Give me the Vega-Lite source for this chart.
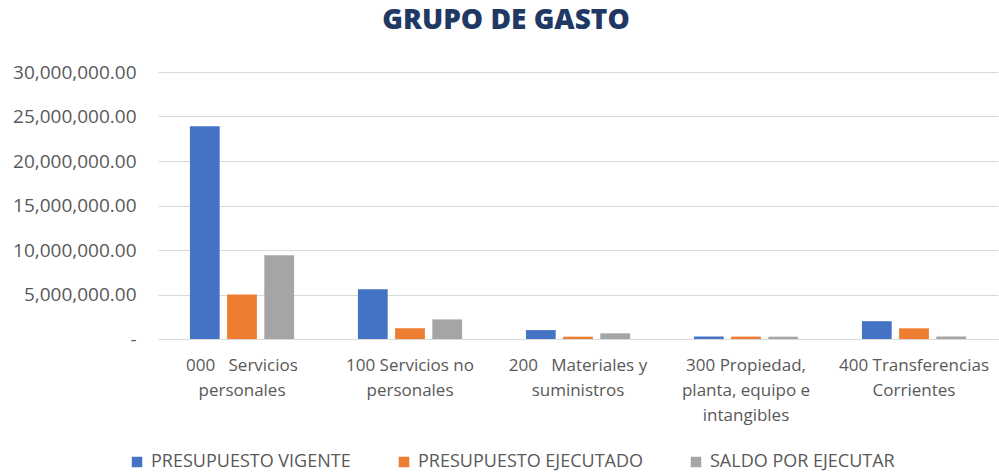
{
  "$schema": "https://vega.github.io/schema/vega-lite/v6.json",
  "width": 840,
  "height": 267,
  "autosize": {"type": "none"},
  "padding": {"left": 158, "top": 72, "right": 1, "bottom": 137},
  "background": "#ffffff",
  "title": {
    "text": "GRUPO DE GASTO",
    "font": "Open Sans",
    "fontWeight": 800,
    "fontSize": 28,
    "color": "#1f3864",
    "anchor": "middle",
    "frame": "group",
    "dx": -72,
    "offset": 28
  },
  "data": {
    "values": [
      {"grupo": "000 Servicios personales", "serie": "PRESUPUESTO VIGENTE", "monto": 23900000},
      {"grupo": "000 Servicios personales", "serie": "PRESUPUESTO EJECUTADO", "monto": 5000000},
      {"grupo": "000 Servicios personales", "serie": "SALDO POR EJECUTAR", "monto": 9400000},
      {"grupo": "100 Servicios no personales", "serie": "PRESUPUESTO VIGENTE", "monto": 5600000},
      {"grupo": "100 Servicios no personales", "serie": "PRESUPUESTO EJECUTADO", "monto": 1200000},
      {"grupo": "100 Servicios no personales", "serie": "SALDO POR EJECUTAR", "monto": 2200000},
      {"grupo": "200 Materiales y suministros", "serie": "PRESUPUESTO VIGENTE", "monto": 1000000},
      {"grupo": "200 Materiales y suministros", "serie": "PRESUPUESTO EJECUTADO", "monto": 260000},
      {"grupo": "200 Materiales y suministros", "serie": "SALDO POR EJECUTAR", "monto": 640000},
      {"grupo": "300 Propiedad, planta, equipo e intangibles", "serie": "PRESUPUESTO VIGENTE", "monto": 280000},
      {"grupo": "300 Propiedad, planta, equipo e intangibles", "serie": "PRESUPUESTO EJECUTADO", "monto": 270000},
      {"grupo": "300 Propiedad, planta, equipo e intangibles", "serie": "SALDO POR EJECUTAR", "monto": 260000},
      {"grupo": "400 Transferencias Corrientes", "serie": "PRESUPUESTO VIGENTE", "monto": 2000000},
      {"grupo": "400 Transferencias Corrientes", "serie": "PRESUPUESTO EJECUTADO", "monto": 1200000},
      {"grupo": "400 Transferencias Corrientes", "serie": "SALDO POR EJECUTAR", "monto": 280000}
    ]
  },
  "mark": {"type": "bar"},
  "encoding": {
    "x": {
      "field": "grupo",
      "type": "nominal",
      "sort": null,
      "title": null,
      "scale": {"paddingInner": 0.38, "paddingOuter": 0.19},
      "axis": {
        "labelAngle": 0,
        "labelFont": "Open Sans",
        "labelFontSize": 17,
        "labelColor": "#595959",
        "labelLineHeight": 25,
        "labelPadding": 18,
        "labelLimit": 200,
        "ticks": false,
        "domainColor": "#d9d9d9",
        "labelExpr": "datum.value == '000 Servicios personales' ? ['000\u00a0\u00a0 Servicios', 'personales'] : datum.value == '100 Servicios no personales' ? ['100 Servicios no', 'personales'] : datum.value == '200 Materiales y suministros' ? ['200\u00a0\u00a0 Materiales y', 'suministros'] : datum.value == '300 Propiedad, planta, equipo e intangibles' ? ['300 Propiedad,', 'planta, equipo e', 'intangibles'] : ['400 Transferencias', 'Corrientes']"
      }
    },
    "xOffset": {
      "field": "serie",
      "type": "nominal",
      "sort": null,
      "scale": {"paddingInner": 0.2}
    },
    "y": {
      "field": "monto",
      "type": "quantitative",
      "title": null,
      "scale": {"domain": [0, 30000000], "nice": false},
      "axis": {
        "values": [0, 5000000, 10000000, 15000000, 20000000, 25000000, 30000000],
        "labelExpr": "datum.value == 0 ? '-\u00a0\u00a0\u00a0' : format(datum.value, ',.2f')",
        "labelFont": "Open Sans",
        "labelFontSize": 19,
        "labelColor": "#595959",
        "labelPadding": 22,
        "ticks": false,
        "domain": false,
        "gridColor": "#d9d9d9",
        "gridWidth": 1
      }
    },
    "color": {
      "field": "serie",
      "type": "nominal",
      "sort": null,
      "title": null,
      "scale": {
        "domain": ["PRESUPUESTO VIGENTE", "PRESUPUESTO EJECUTADO", "SALDO POR EJECUTAR"],
        "range": ["#4472c4", "#ed7d31", "#a5a5a5"]
      },
      "legend": {
        "orient": "none",
        "legendX": -30,
        "legendY": 381,
        "direction": "horizontal",
        "symbolType": "square",
        "symbolSize": 110,
        "symbolStrokeWidth": 0,
        "labelFont": "Open Sans",
        "labelFontSize": 18,
        "labelColor": "#595959",
        "labelLimit": 300,
        "columnPadding": 44,
        "labelOffset": 5
      }
    }
  },
  "config": {
    "view": {"stroke": null}
  }
}
